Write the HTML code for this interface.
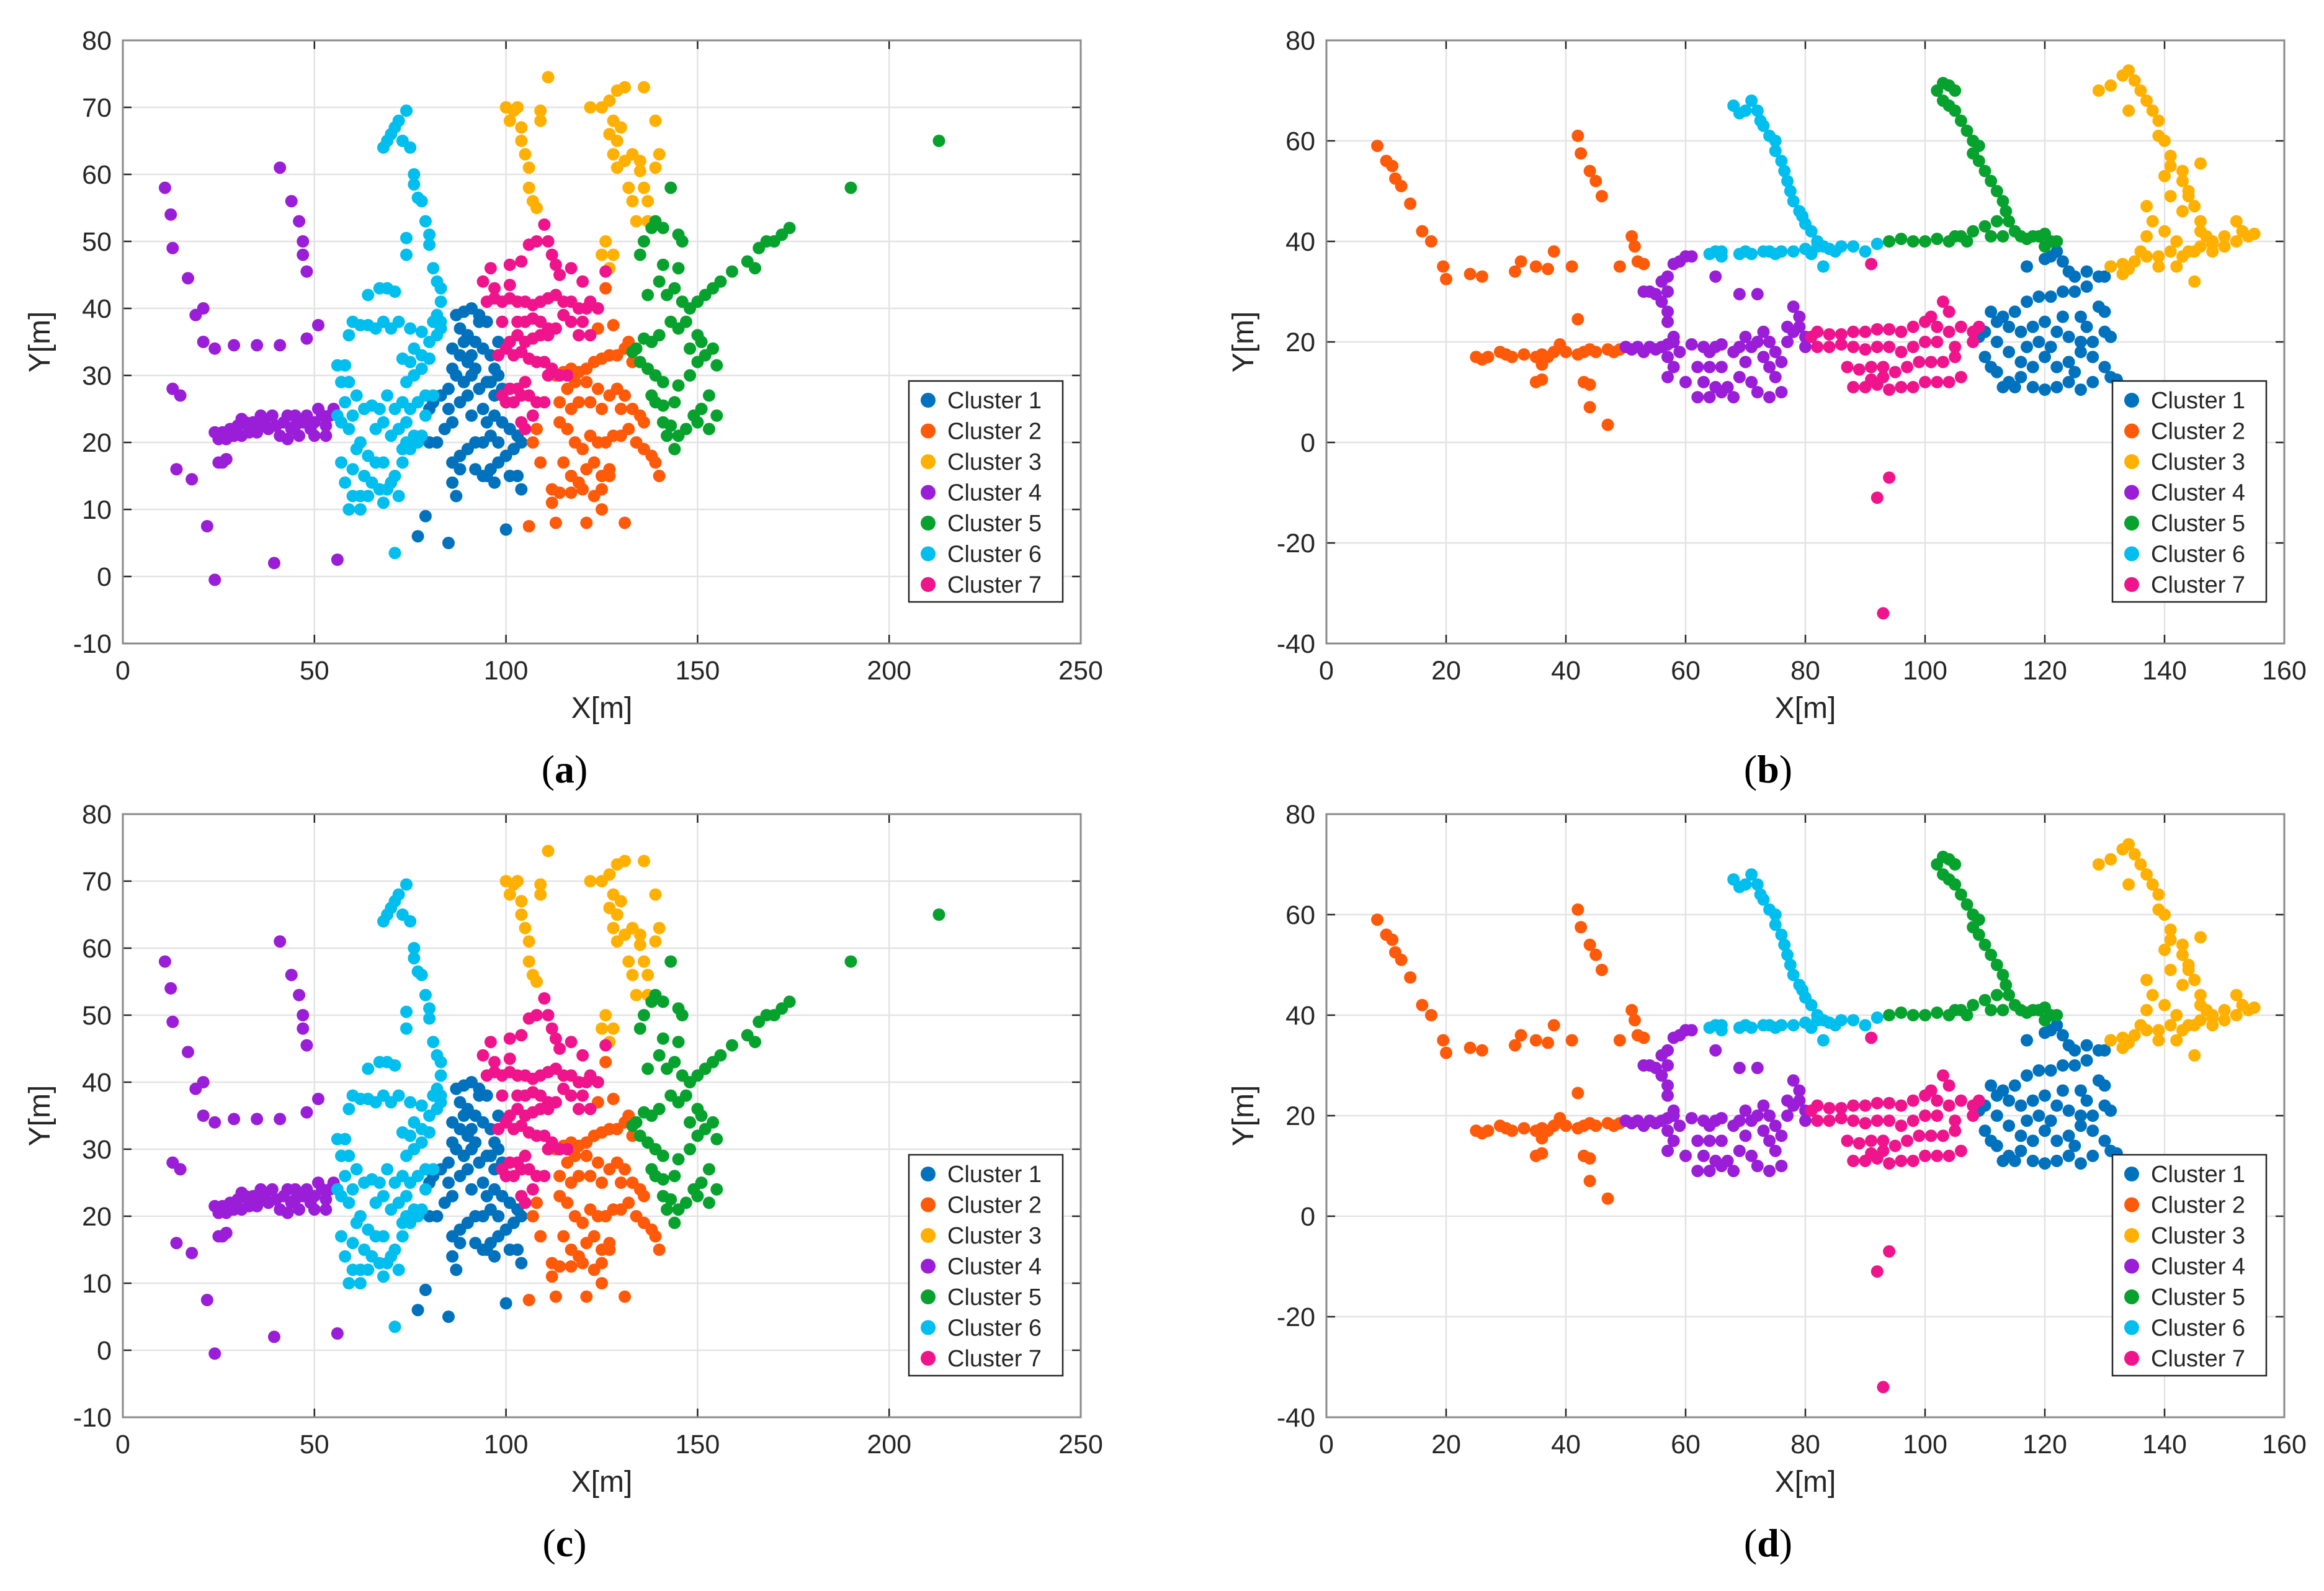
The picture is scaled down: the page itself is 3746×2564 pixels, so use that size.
<!DOCTYPE html>
<html><head><meta charset="utf-8">
<style>
html,body{margin:0;padding:0;background:#fff;}
svg{display:block;}
text{font-family:"Liberation Sans",sans-serif;fill:#262626;}
text.plabel{font-family:"Liberation Serif",serif;fill:#000;}
</style></head>
<body>
<svg id="fig" width="3746" height="2564" viewBox="0 0 3746 2564" xmlns="http://www.w3.org/2000/svg"></svg>
<script>
const colors = ['#0072BD','#FF5A0A','#FFB000','#9A1ED8','#07A22D','#00BEEE','#F0148C'];
const clusterNames = ['Cluster 1','Cluster 2','Cluster 3','Cluster 4','Cluster 5','Cluster 6','Cluster 7'];
const xTicksA = [0,50,100,150,200,250];
const yTicksA = [-10,0,10,20,30,40,50,60,70,80];
const xTicksB = [0,20,40,60,80,100,120,140,160];
const yTicksB = [-40,-20,0,20,40,60,80];

const a1 = [[87,39],[89,39.5],[91,40],[93,39],[95,38],[88,37],[90,36],[92,35],[94,34],[96,33],[86,34],[88,33],[90,32],[92,31],[87,30],[89,29],[91,30],[93,28],[95,29],[97,27],[85,28],[83,27],[81,26],[80,25],[85,25],[88,26],[90,27],[96,29],[98,30],[99,28],[101,28],[100,26],[97,24],[99,23],[101,22],[103,21],[102,19],[104,20],[98,20],[96,21],[94,20],[92,20],[90,19],[88,18],[86,17],[88,16],[92,16],[94,15],[96,16],[98,17],[100,18],[101,15],[103,15],[97,14],[95,15],[86,14],[87,12],[104,13],[79,9],[77,6],[85,5],[100,7],[84,22],[82,20],[80,20],[86,23],[91,24],[94,25],[95,23],[93,38],[98,35],[97,31],[89,35],[91,33],[86,31]];
const a2 = [[113,30],[115,30.5],[117,31],[119,30.5],[121,31],[123,32],[125,32.5],[127,33],[129,33],[131,34],[132,35],[118,29],[121,29],[124,28],[116,28],[114,26],[117,25],[119,26],[122,26],[125,25],[127,27],[129,28],[131,27],[133,25],[135,24],[136,23],[114,23],[116,22],[118,20],[120,19],[122,21],[124,20],[126,20],[128,21],[130,21],[132,22],[134,20],[136,19],[138,18],[139,17],[140,15],[115,17],[117,15],[119,14],[121,16],[123,17],[125,15],[127,15],[112,13],[114,12.5],[117,12.5],[120,13],[123,12],[125,13],[127,16],[112,11],[106,7.5],[113,8],[121,8],[125,10],[131,8],[107,20],[109,17],[108,22],[124,37],[126,43],[128,37.5],[133,32],[130,25]];
const a3 = [[100,70],[102,69.5],[101,68],[103,70],[104,67],[104,65],[105,63],[106,61],[106,58],[107,56],[108,55],[111,74.5],[109,69.5],[109,68],[122,70],[125,70],[127,71],[129,72.5],[131,73],[128,68],[127,66],[129,65],[130,67],[128,63],[129,61],[131,62],[133,63],[135,60.5],[136,58],[137,56],[137,53],[132,58],[133,56],[134,53],[128,48],[126,50],[125,48],[127,46],[136,73],[139,68],[140,63],[139,61],[135,62]];
const a4 = [[11,58],[12.5,54],[13,49],[17,44.5],[19,39],[21,40],[21,35],[24,34],[29,34.5],[35,34.5],[41,34.5],[48,35.5],[51,37.5],[13,28],[15,27],[14,16],[18,14.5],[22,7.5],[24,-0.5],[39.5,2],[56,2.5],[41,61],[44,56],[46,53],[47,50],[47,48],[48,45.5],[26,17],[27,17.5],[25,17],[24,21.5],[25,20.5],[27,20.5],[28,22],[29,21],[30,22.5],[31,21],[32,23],[33,22],[34,23],[35,21.5],[36,22.5],[37,23],[38,22],[39,24],[40,22.5],[41,21],[42,23],[43,24],[44,22],[45,22.5],[46,21],[47,23],[48,24],[49,22],[50,23],[51,25],[52,24],[53,22.5],[54,24],[55,25],[50,21],[43,20.5],[31,23.5],[33,21.5],[36,24],[45,24],[53,21],[26,21.5]];
const a5 = [[136,50],[138,52],[139,53],[141,52],[143,58],[145,51],[146,50],[137,42],[140,44],[142,42],[144,43],[146,41],[148,40],[150,41],[152,42],[154,43],[156,44],[159,45.5],[163,47],[165,46],[166,49],[168,50],[170,50],[172,51],[174,52],[190,58],[213,65],[141,46.5],[145,46],[147,38],[145,37],[143,38],[140,36],[138,35],[136,35.5],[134,34],[133,33.5],[135,32],[137,31],[139,30],[141,29],[145,28.5],[148,30],[150,32],[152,33],[154,34],[155,31.5],[153,27],[151,25],[149,24],[147,22],[145,21],[143,22.5],[141,23],[139,26],[141,25.5],[144,26],[150,23],[153,22],[155,24],[144,19],[138,27],[148,34],[150,36],[142,21],[135,48],[151,35]];
const a6 = [[69,65],[68,64],[70,66],[72,68],[71,67],[74,69.5],[73,65],[75,64],[76,60],[76,58.5],[77,56.5],[78,56],[79,53],[80,51],[80,49.5],[74,50.5],[74,48],[81,46],[82,44],[83,43],[83,41],[82,39],[83,38],[83,37],[81,38],[78,36.5],[75,37],[72,38],[70,37],[68,38],[64,42],[67,43],[69,43],[71,42.5],[60,38],[62,37.5],[64,37.5],[66,37],[59,36],[56,31.5],[58,31.5],[57,29],[59,29],[58,26],[61,27],[63,25],[65,25.5],[67,25],[69,27],[71,25],[73,26],[75,25],[77,26],[79,27],[74,29],[76,30],[78,31],[80,32.5],[78,33],[76,34],[80,35],[82,36],[73,32.5],[75,32],[56,24],[57,23],[59,22],[60,24],[62,20],[61,19],[64,18],[66,17],[68,17],[63,15],[65,14],[67,13],[69,13],[71,15],[73,17],[75,19],[76,21],[70,21],[72,22],[74,23],[68,23],[66,22],[62,12],[64,12],[68,11],[62,10],[59,10],[58,14],[57,17],[60,16],[60,12],[70,14],[72,12],[74,20],[78,21],[79,24],[77,20],[71,3.5],[81,27],[73,19]];
const a7 = [[95,41],[97,41.5],[99,41],[101,41.5],[103,41],[105,41],[107,40.5],[109,41],[111,41.5],[113,42],[115,41],[117,41],[119,40],[121,40],[103,38],[105,38],[107,38.5],[109,38],[111,37],[113,37],[99,38],[101,35],[103,36],[105,35],[107,35.5],[109,36],[111,36],[100,34],[102,33],[104,33.5],[106,32.5],[108,32],[110,32],[112,31],[114,30],[116,30],[111,30],[105,29],[103,28],[101,28],[99,27],[100,26],[102,26],[104,27],[106,27],[108,26],[110,26],[107,24],[104,23],[105,22],[96,46],[94,44],[97,43],[101,46.5],[104,47],[106,49.5],[108,50],[110,52.5],[111,50],[112,48],[113,46.5],[114,45],[117,46],[120,44],[122,41],[124,40],[120,38],[122,36],[126,45.5],[115,39],[117,38],[119,36],[101,43.5],[98,33]];

const b1 = [[109,21],[110,22],[112,24],[114,23],[116,22],[118,23],[120,24],[122,22],[124,21],[126,20],[128,20],[130,22],[111,26],[113,25],[115,26],[117,28],[119,29],[121,29],[123,30],[125,30],[127,31],[129,33],[131,35],[121,37],[122,38],[123,36],[124,34],[125,33],[127,34],[130,33],[120,36.5],[117,35],[112,20],[114,18],[116,16],[118,15],[120,17],[122,15],[124,16],[126,18],[128,17],[130,15],[131,13],[132,12.5],[112,14],[114,12],[116,13],[118,11],[120,10.5],[122,11],[124,12],[126,10.5],[128,12],[113,11],[115,11],[110,17],[119,20],[121,19],[123,25],[126,25],[129,27],[131,21],[130,26],[111,15],[117,19],[125,14],[127,23]];
const b2 = [[8.5,59],[10,56],[11,55],[11.5,52.5],[12.5,51],[14,47.5],[16,42],[17.5,40],[19.5,35],[20,32.5],[24,33.5],[26,33],[31.5,34],[32.5,36],[35,35],[37,34.5],[38,38],[41,35],[42,61],[42.5,57.5],[44,54],[45,52],[46,49],[51,41],[51.5,39],[52,36],[53,35.5],[49,35],[25,17],[26,16.5],[27,17],[29,18],[30,17.5],[31,17],[33,17.5],[35,17],[36,17.5],[37,17],[38,18],[39,19.5],[40,18],[42,17.5],[43,18],[44,18.5],[45,18],[47,18.5],[48,18],[49,18.5],[36,15.5],[35,12],[36,12.5],[43,12],[44,11.5],[44,7],[47,3.5],[42,24.5]];
const b3 = [[129,70],[131,71],[133,73],[134,74],[135,72],[136,70],[137,68],[138,66],[139,64],[139,61],[140,60],[141,57],[141,55],[143,52],[144,49],[145,47],[146,44],[146,42],[147,41],[148,40],[150,41],[152,44],[153,42],[154,41],[155,41.5],[134,66],[140,53],[143,54],[144,50],[141,49],[146,55.5],[137,47],[137,41],[138,44],[140,42],[142,40],[143,46],[145,38],[143,37],[141,38],[139,37],[137,37],[135,36],[133,35.5],[131,35],[133,33.5],[134,34.5],[136,38],[144,38],[146,39],[148,38],[150,39],[152,40],[145,32],[139,35],[142,35],[148,39.5]];
const b4 = [[50,19],[51,18.5],[52,19],[53,18],[54,19],[55,18.5],[56,19],[57,19.5],[57,17],[58,15],[57,13],[58,21],[57,24],[57,26],[56,28],[57,30],[56,32],[57,33],[55,29.5],[54,30],[53,30],[58,35.5],[59,36],[60,37],[61,37],[61,19.5],[63,19],[64,18],[65,19],[66,19.5],[62,15],[64,15],[66,15],[63,12],[65,11],[67,11],[62,9],[64,9],[66,10],[68,9],[69,13],[70,16],[71,19],[72,20],[73,22],[74,20],[75,18],[73,17],[74,15],[75,13],[76,10],[72,10],[74,9],[76,16],[71,12],[77,20],[78,22],[79,25],[78,27],[79,23],[80,21],[80,19],[77,23],[69,19],[70,21],[68,18],[65,33],[69,29.5],[72,29.5],[60,12],[58,20],[59,18]];
const b5 = [[102,70],[103,71.5],[104,71],[105,70],[103,68],[104,67],[105,66],[106,64],[107,62],[108,60],[109,59],[108,57.5],[109,56],[110,54],[111,52],[112,50],[113,48],[113.5,46],[114,44],[115,42],[116,41],[118,41],[120,41.5],[121,40],[120,39],[94,40],[96,40.5],[98,40],[100,40],[102,40.5],[104,40],[106,41],[108,42],[110,43],[111,41],[113,41],[117,40.5],[119,41],[122,40],[107,40],[112,44],[105,41]];
const b6 = [[68,67],[69,65.5],[70,66],[71,68],[72,66],[72.5,64],[73,63],[74,61],[75,60],[75,58],[76,56],[76.5,54],[77,52],[77.5,50],[78,48],[79,46],[79.5,45],[80,43.5],[81,42],[82,40],[83,39],[64,37.5],[65,38],[66,38],[70,38],[71,37.5],[73,38],[74,38],[76,38],[78,38],[80,38.5],[82,39],[84,38.5],[86,39],[88,39],[90,38],[92,39.5],[83,35],[66,37],[69,37.5],[75,37.5],[81,37.5],[85,38]];
const b7 = [[81,21],[82,22],[84,21.5],[86,21.5],[88,22],[90,22],[92,22.5],[94,22.5],[96,22],[98,23],[100,24],[102,23],[104,22],[106,23],[103,28],[104,26],[101,25],[82,19],[84,19],[86,19.5],[88,19],[90,18.5],[92,19],[94,19],[96,18],[98,19],[100,20],[102,20],[105,19],[87,15],[89,14.5],[91,15],[93,15],[95,14],[97,15],[99,16],[101,16],[103,16],[105,17],[108,20],[108,22],[109,23],[88,11],[90,11],[92,11.5],[94,10.5],[96,11],[98,11],[100,12],[102,12],[104,12],[106,13],[91,12.5],[93,13],[92,-11],[94,-7],[93,-34],[91,35.5]];

const NS='http://www.w3.org/2000/svg';
const svg=document.getElementById('fig');
function mk(tag,attrs,parent){const e=document.createElementNS(NS,tag);for(const k in attrs)e.setAttribute(k,attrs[k]);(parent||svg).appendChild(e);return e;}

function panel(id,L,R,T,B,xmin,xmax,ymin,ymax,xt,yt,clusters,label){
  const g=mk('g',{});
  
  
  const sx=v=>L+(v-xmin)/(xmax-xmin)*(R-L);
  const sy=v=>B-(v-ymin)/(ymax-ymin)*(B-T);
  mk('rect',{x:L,y:T,width:R-L,height:B-T,fill:'#fff'},g);
  xt.forEach(v=>{
    const l=mk('line',{x1:sx(v),x2:sx(v),y1:T,y2:B,stroke:'#e3e3e3','stroke-width':2.5},g);
    
    
    mk('line',{x1:sx(v),x2:sx(v),y1:B,y2:B-14,stroke:'#262626','stroke-width':2.5},g);
    mk('line',{x1:sx(v),x2:sx(v),y1:T,y2:T+14,stroke:'#262626','stroke-width':2.5},g);
    const t=mk('text',{x:sx(v),y:B+58,'font-size':43,'text-anchor':'middle'},g);
    t.textContent=v;
    
    
  });
  yt.forEach(v=>{
    const l=mk('line',{x1:L,x2:R,y1:sy(v),y2:sy(v),stroke:'#e3e3e3','stroke-width':2.5},g);
    
    
    mk('line',{x1:L,x2:L+14,y1:sy(v),y2:sy(v),stroke:'#262626','stroke-width':2.5},g);
    mk('line',{x1:R,x2:R-14,y1:sy(v),y2:sy(v),stroke:'#262626','stroke-width':2.5},g);
    const t=mk('text',{x:L-18,y:sy(v)+15,'font-size':43,'text-anchor':'end'},g);
    t.textContent=v;
    
    
  });
  clusters.forEach((pts,ci)=>{
    const cg=mk('g',{fill:colors[ci]},g);
    
    
    pts.forEach(p=>{
      const c=mk('circle',{cx:sx(p[0]),cy:sy(p[1]),r:10},cg);
      
      
    });
  });
  mk('rect',{x:L,y:T,width:R-L,height:B-T,fill:'none',stroke:'#8a8a8a','stroke-width':3},g);
  const xl=mk('text',{x:(L+R)/2,y:B+120,'font-size':48,'text-anchor':'middle'},g);
  xl.textContent='X[m]';
  
  
  const yx=L-118, yy=(T+B)/2;
  const yl=mk('text',{x:yx,y:yy,'font-size':48,'text-anchor':'middle',transform:'rotate(-90 '+yx+' '+yy+')'},g);
  yl.textContent='Y[m]';
  
  
  const lx=R-277, ly=B-423;
  const lg=mk('g',{},g);
  
  
  mk('rect',{x:lx,y:ly,width:248,height:356,fill:'#fff',stroke:'#262626','stroke-width':2.5},lg);
  clusterNames.forEach((n,i)=>{
    const e=mk('g',{},lg);
    
    
    mk('circle',{cx:lx+31,cy:ly+31+i*49.5,r:12,fill:colors[i]},e);
    const t=mk('text',{x:lx+62,y:ly+44+i*49.5,'font-size':38},e);
    t.textContent=n;
  });
  const pl=mk('text',{x:(L+R)/2-60,y:B+224,'font-size':64,'text-anchor':'middle','class':'plabel'},g);
  pl.innerHTML='(<tspan font-weight="bold">'+label+'</tspan>)';
  
  
}
const A=[a1,a2,a3,a4,a5,a6,a7], Bc=[b1,b2,b3,b4,b5,b6,b7];
panel('a',198,1742,65,1037,0,250,-10,80,xTicksA,yTicksA,A,'a');
panel('b',2138,3682,65,1037,0,160,-40,80,xTicksB,yTicksB,Bc,'b');
panel('c',198,1742,1312,2284,0,250,-10,80,xTicksA,yTicksA,A,'c');
panel('d',2138,3682,1312,2284,0,160,-40,80,xTicksB,yTicksB,Bc,'d');
</script>
</body></html>
